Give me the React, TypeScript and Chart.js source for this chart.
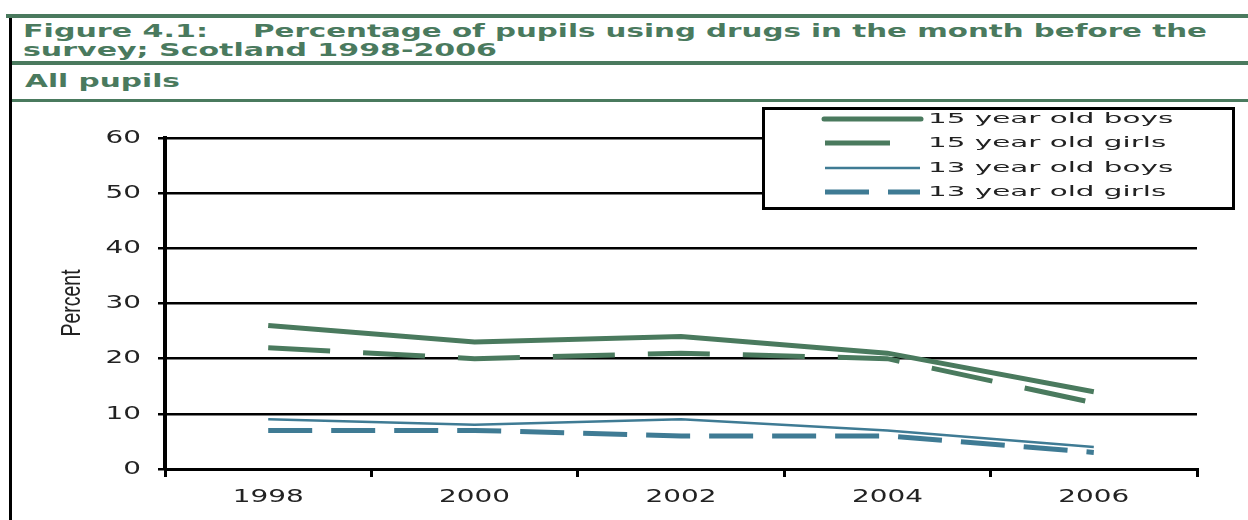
import React, { useEffect, useRef } from "react";
import { Chart, registerables } from "chart.js";

Chart.register(...registerables);

// ---- data ----
const years = ["1998", "2000", "2002", "2004", "2006"];
const boys15 = [26, 23, 24, 21, 14];
const girls15 = [22, 20, 21, 20, 12];
const boys13 = [9, 8, 9, 7, 4];
const girls13 = [7, 7, 6, 6, 3];
const yTicks = [0, 10, 20, 30, 40, 50, 60];
const seriesNames = ["15 year old boys", "15 year old girls", "13 year old boys", "13 year old girls"];
const titleA = "Figure 4.1:";
const titleB = "Percentage of pupils using drugs in the month before the";
const titleC = "survey; Scotland 1998-2006";
const subTitle = "All pupils";
const yTitle = "Percent";

const GREEN = "#4a7a5e";
const TEAL = "#3f7b94";
const TEXT = "#222222";

const legendRows = [119, 143, 168, 192];
const legendStart = [824, 825, 825, 825];
const legendEnd = [921, 890, 920, 920];

const drawPlugin = {
  id: "customDraw",
  afterDraw(chart: any) {
    const ctx: CanvasRenderingContext2D = chart.ctx;
    const ys = chart.scales.y;
    const xs = chart.scales.x;
    ctx.save();

    // y tick labels
    ctx.fillStyle = TEXT;
    ctx.font = "18px 'DejaVu Sans'";
    ctx.textAlign = "right";
    ctx.textBaseline = "middle";
    yTicks.forEach((v) => {
      const py = ys.getPixelForValue(v);
      ctx.save();
      ctx.translate(141, py);
      ctx.scale(1.55, 1);
      ctx.fillText(String(v), 0, 0);
      ctx.restore();
    });

    // x tick labels
    ctx.textAlign = "center";
    years.forEach((lab, i) => {
      const px = xs.getPixelForValue(i);
      ctx.save();
      ctx.translate(px, 497);
      ctx.scale(1.55, 1);
      ctx.fillText(lab, 0, 0);
      ctx.restore();
    });

    // y title
    ctx.save();
    ctx.translate(72, 303);
    ctx.rotate(-Math.PI / 2);
    ctx.scale(1.5, 2.1);
    ctx.font = "13px 'Liberation Sans'";
    ctx.textAlign = "center";
    ctx.textBaseline = "middle";
    ctx.fillText(yTitle, 0, 0);
    ctx.restore();

    // legend box
    ctx.fillStyle = "#ffffff";
    ctx.fillRect(763, 108, 471, 101);
    ctx.strokeStyle = "#000000";
    ctx.lineWidth = 3;
    ctx.setLineDash([]);
    ctx.strokeRect(763.5, 108.5, 470, 100);

    chart.data.datasets.forEach((ds: any, i: number) => {
      const ry = legendRows[i];
      ctx.save();
      ctx.strokeStyle = ds.borderColor;
      ctx.lineWidth = ds.borderWidth;
      ctx.lineCap = i === 0 ? "round" : "butt";
      // the 15-year-old girls sample shows just one dash segment
      ctx.setLineDash(i === 3 ? ds.borderDash : []);
      ctx.beginPath();
      ctx.moveTo(legendStart[i], ry);
      ctx.lineTo(legendEnd[i], ry);
      ctx.stroke();
      ctx.restore();

      ctx.save();
      ctx.fillStyle = TEXT;
      ctx.font = "14px 'DejaVu Sans'";
      ctx.textAlign = "left";
      ctx.textBaseline = "middle";
      ctx.translate(928, ry);
      ctx.scale(2.1, 1);
      ctx.fillText(seriesNames[i], 0, 0);
      ctx.restore();
    });

    ctx.restore();
  },
};

export default function App() {
  const canvasRef = useRef<HTMLCanvasElement | null>(null);

  useEffect(() => {
    document.body.style.margin = "0";
    const canvas = canvasRef.current;
    if (!canvas) return;
    const chart = new Chart(canvas, {
      type: "line",
      data: {
        labels: years,
        datasets: [
          {
            label: seriesNames[0],
            data: boys15,
            borderColor: GREEN,
            borderWidth: 5,
            pointRadius: 0,
            tension: 0,
            fill: false,
          },
          {
            label: seriesNames[1],
            data: girls15,
            borderColor: GREEN,
            borderWidth: 5,
            borderDash: [62, 33],
            pointRadius: 0,
            tension: 0,
            fill: false,
          },
          {
            label: seriesNames[2],
            data: boys13,
            borderColor: TEAL,
            borderWidth: 2.5,
            pointRadius: 0,
            tension: 0,
            fill: false,
          },
          {
            label: seriesNames[3],
            data: girls13,
            borderColor: TEAL,
            borderWidth: 5,
            borderDash: [44, 19],
            pointRadius: 0,
            tension: 0,
            fill: false,
          },
        ],
      },
      options: {
        animation: false,
        responsive: false,
        maintainAspectRatio: false,
        devicePixelRatio: 1,
        layout: { padding: { left: 0, right: 51, top: 138, bottom: 0 } },
        plugins: {
          legend: { display: false },
          tooltip: { enabled: false },
          title: { display: false },
        },
        scales: {
          x: {
            type: "category",
            offset: true,
            ticks: { display: false },
            grid: {
              offset: true,
              drawOnChartArea: false,
              drawTicks: true,
              tickLength: 8,
              lineWidth: 3,
              color: "#000000",
            },
            border: { display: true, color: "#000000", width: 3 },
            afterFit: (s: any) => {
              s.height = 51;
            },
          },
          y: {
            min: 0,
            max: 60,
            ticks: { display: false, stepSize: 10 },
            grid: {
              color: "#000000",
              lineWidth: 2.5,
              drawTicks: true,
              tickLength: 7,
            },
            border: { display: true, color: "#000000", width: 4 },
            afterFit: (s: any) => {
              s.width = 165;
            },
          },
        },
      },
      plugins: [drawPlugin],
    });
    return () => chart.destroy();
  }, []);

  return (
    <div style={{ position: "absolute", left: 0, top: 0, width: 1248, height: 520, background: "#ffffff", overflow: "hidden" }}>
      <svg width={1248} height={520} style={{ position: "absolute", left: 0, top: 0 }}>
        <rect x={6} y={14} width={1242} height={4} fill={GREEN} />
        <rect x={9} y={18} width={3} height={502} fill="#000000" />
        <g fill={GREEN} fontFamily="'DejaVu Sans'" fontWeight="bold" fontSize={17}>
          <text x={23} y={37} textLength={185} lengthAdjust="spacingAndGlyphs">{titleA}</text>
          <text x={253} y={37} textLength={954} lengthAdjust="spacingAndGlyphs">{titleB}</text>
          <text x={23} y={56} textLength={474} lengthAdjust="spacingAndGlyphs">{titleC}</text>
          <text x={25} y={87} textLength={155} lengthAdjust="spacingAndGlyphs">{subTitle}</text>
        </g>
        <rect x={12} y={61} width={1236} height={4} fill={GREEN} />
        <rect x={12} y={99} width={1236} height={3} fill={GREEN} />
      </svg>
      <canvas
        ref={canvasRef}
        width={1248}
        height={520}
        style={{ position: "absolute", left: 0, top: 0, width: 1248, height: 520 }}
      />
    </div>
  );
}
